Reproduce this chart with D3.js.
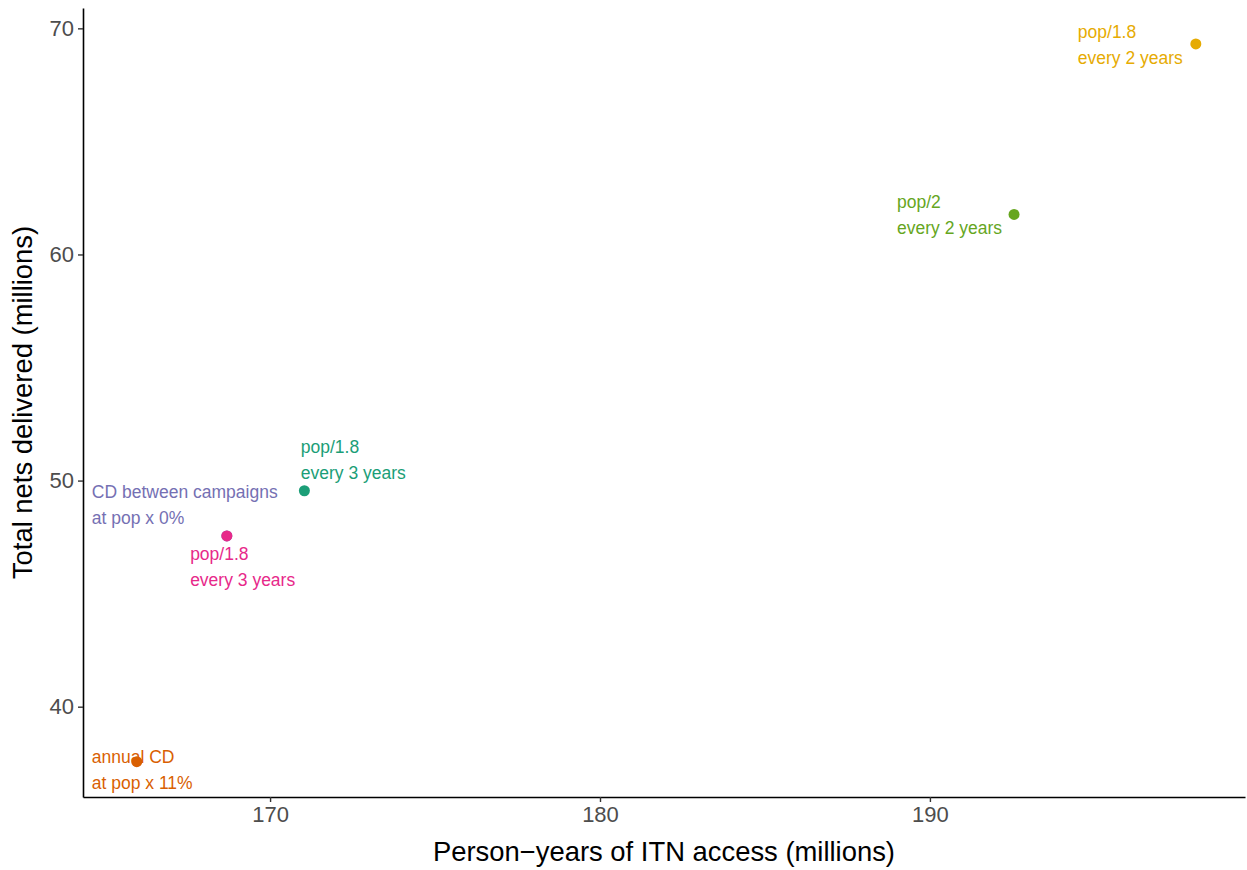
<!DOCTYPE html>
<html><head><meta charset="utf-8">
<script src="https://cdn.jsdelivr.net/npm/d3@7"></script>
<style>body{margin:0;background:#fff;} text{font-family:"Liberation Sans",Arial,sans-serif;}</style>
</head><body><svg id="c" width="1247" height="870"></svg>
<script>
const scenarios = ["pop/1.8 every 3 years","annual CD","CD between campaigns","pop/1.8 every 3 years (pink)","pop/2 every 2 years","pop/1.8 every 2 years"];
const personYears = [171.04, 165.96, 168.69, 168.69, 192.55, 198.06];
const totalNets = [49.55, 37.57, 47.55, 47.55, 61.77, 69.31];
const labelLine1 = ["pop/1.8","annual CD","CD between campaigns","pop/1.8","pop/2","pop/1.8"];
const labelLine2 = ["every 3 years","at pop x 11%","at pop x 0%","every 3 years","every 2 years","every 2 years"];
const colors = ["#1B9E77","#D95F02","#7570B3","#E7298A","#66A61E","#E6AB02"];
const xTicks = [170,180,190];
const yTicks = [40,50,60,70];
// label offsets in px (layout)
const labelDx = [-3.6,-45,-135,-36.7,-117,-118];
const labelDy = [-38,1,-38,24,-6,-6];

const svg = d3.select("#c");
const L=83, R=1245, T=8, B=797;
const x = d3.scaleLinear().domain([164.33,199.55]).range([L,R]);
const y = d3.scaleLinear().domain([36.006,70.9]).range([B,T]);

const xa = svg.append("g").attr("transform",`translate(0,${B})`)
  .call(d3.axisBottom(x).tickValues(xTicks).tickSize(5).tickPadding(4).tickSizeOuter(0));
const ya = svg.append("g").attr("transform",`translate(${L},0)`)
  .call(d3.axisLeft(y).tickValues(yTicks).tickSize(5).tickPadding(4).tickSizeOuter(0));
[xa,ya].forEach(a=>{
  a.select(".domain").attr("stroke","#000").attr("stroke-width",1.6);
  a.selectAll(".tick line").attr("stroke","#333").attr("stroke-width",1.4);
  a.selectAll(".tick text").attr("fill","#4d4d4d").style("font-size","22px");
});

const idx = d3.range(personYears.length);
svg.append("g").selectAll("circle").data(idx).join("circle")
  .attr("cx",i=>x(personYears[i])).attr("cy",i=>y(totalNets[i]))
  .attr("r",5.5).attr("fill",i=>colors[i]);

const lg = svg.append("g").selectAll("text").data(idx).join("text")
  .attr("x",i=>x(personYears[i])+labelDx[i])
  .attr("y",i=>y(totalNets[i])+labelDy[i])
  .attr("fill",i=>colors[i]).style("font-size","17.5px");
lg.append("tspan").text(i=>labelLine1[i]);
lg.append("tspan").attr("x",i=>x(personYears[i])+labelDx[i]).attr("dy",26).text(i=>labelLine2[i]);

svg.append("text").attr("x",(L+R)/2).attr("y",861).attr("text-anchor","middle")
  .style("font-size","27.4px").text("Person\u2212years of ITN access (millions)");
svg.append("text").attr("transform",`translate(32,${(T+B)/2}) rotate(-90)`).attr("text-anchor","middle")
  .style("font-size","27.4px").text("Total nets delivered (millions)");
</script></body></html>
